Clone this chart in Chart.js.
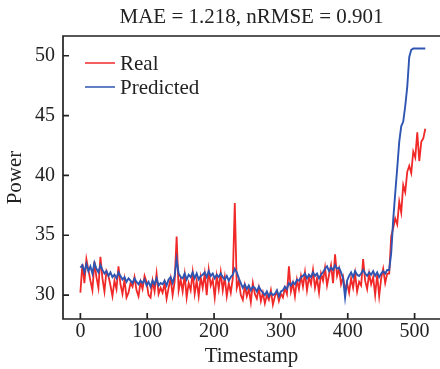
<!DOCTYPE html>
<html>
<head>
<meta charset="utf-8">
<script src="https://cdn.jsdelivr.net/npm/chart.js@4"></script>
<style>
  body { margin: 0; background: #fff; }
</style>
</head>
<body>
<canvas id="miGrafica" width="440" height="369"></canvas>
<script>
/* Real vs Predicted */
// paso entre muestras (timestamp)
const step = 3;
// ticks de los ejes
const xTicks = [0, 100, 200, 300, 400, 500];
const yTicks = [30, 35, 40, 45, 50];
const seriesNames = ["Real", "Predicted"];

// Datos
const real = [
  30.2, 32.6, 31.0, 33.0, 32.1, 31.2, 30.4, 32.8, 31.5, 30.6, 33.2,
  31.4, 30.3, 32.0, 31.6, 30.8, 29.9, 31.2, 30.5, 32.4, 30.9,
  30.1, 31.3, 29.8, 30.2, 31.0, 30.7, 31.5, 30.4, 29.9, 31.1,
  30.5, 31.6, 31.1, 30.0, 29.8, 31.2, 30.3, 31.8, 30.1, 30.6,
  30.2, 31.0, 29.7, 30.6, 31.4, 30.0, 31.1, 34.9, 30.4, 31.3,
  30.3, 31.7, 29.8, 31.0, 30.4, 31.9, 30.1, 31.2, 29.9, 31.5,
  30.6, 31.8, 30.0, 32.1, 30.8, 31.3, 29.8, 31.6, 30.5, 31.9,
  30.4, 31.5, 29.9, 31.0, 30.2, 31.4, 37.7, 30.6, 31.2, 30.0,
  29.6, 30.8, 29.9, 30.5, 29.4, 31.0, 30.1, 29.7, 30.6, 29.5,
  30.2, 29.3, 30.0, 29.6, 30.4, 29.2, 29.9, 30.3, 29.5, 30.1,
  29.8, 30.6, 30.1, 32.4, 30.3, 31.0, 29.9, 31.3, 30.5, 31.6,
  30.7, 31.9, 30.4, 31.5, 30.9, 32.1, 30.6, 31.4, 30.2, 31.8,
  31.2, 32.3, 30.8, 31.7, 32.5, 31.0, 33.4, 31.6, 32.2, 30.9,
  31.5, 30.4, 31.0, 30.2, 31.4, 30.6, 31.8, 30.3, 31.1, 30.8,
  33.0, 31.2, 30.5, 31.8, 30.9, 31.5, 30.0, 31.7, 29.9, 31.4,
  32.2, 31.0, 31.8, 31.8, 34.9,
  35.6, 36.4, 35.9, 37.8, 36.9, 39.2, 38.6, 40.3, 40.8, 40.2,
  42.0, 41.5, 43.6, 41.2, 42.8, 43.1, 43.9
];
const predicted = [
  32.3, 32.5, 31.9, 32.6, 32.0, 32.4, 31.8, 32.7, 32.2, 31.9, 32.5,
  32.1, 31.8, 32.0, 31.6, 31.9, 31.5, 31.7, 31.4, 31.9, 31.6,
  31.3, 31.5, 31.1, 31.4, 31.2, 31.0, 31.4, 31.1, 30.9, 31.2,
  31.0, 31.3, 30.8, 31.1, 30.7, 31.2, 30.9, 31.4, 30.8, 31.0,
  30.9, 31.2, 30.8, 31.3, 31.5, 31.0, 31.6, 33.0, 31.8, 31.5,
  31.4, 31.8, 31.3, 31.7, 31.5, 31.9, 31.4, 31.8, 31.3, 31.6,
  31.7, 31.9, 31.5, 32.0, 31.6, 31.8, 31.4, 31.7, 31.5, 31.8,
  31.5, 31.3, 31.6, 31.2, 31.5, 31.7, 32.2, 31.9, 31.4, 31.0,
  30.6, 30.9, 30.5, 30.8, 30.4, 30.7, 30.6, 30.3, 30.7, 30.4,
  30.2, 30.0, 30.3, 29.9, 30.2, 30.0, 30.1, 30.4, 29.9, 30.3,
  30.4, 30.7, 30.5, 31.0, 30.8, 31.1, 30.9, 31.3, 31.2, 31.5,
  31.6, 31.8, 31.4, 31.7, 31.5, 31.9, 31.6, 31.8, 31.4, 31.7,
  31.9, 32.2, 32.4, 32.0, 32.3, 32.1, 32.5, 32.2, 32.3, 31.9,
  31.4, 29.8, 31.2, 31.6, 31.9, 31.5, 32.0, 31.7, 31.6, 31.8,
  32.1, 31.8, 31.6, 31.9, 31.7, 32.0, 31.6, 31.9, 31.5, 31.8,
  32.0, 31.8, 32.1, 32.1, 33.5,
  36.3, 38.5, 40.6, 42.8, 44.1, 44.5, 45.8, 47.4, 49.9, 50.5,
  50.6, 50.6, 50.6, 50.6, 50.6, 50.6, 50.6
];
// eje X
const timestamps = real.map((_, i) => i * step);

const serif = "'Liberation Serif', 'Times New Roman', serif";
const ink = "#222";

// marco, ticks hacia adentro y leyenda dentro del área
const marco = {
  id: "marco",
  afterDraw(chart) {
    const { ctx, chartArea: a, scales } = chart;
    ctx.save();
    ctx.strokeStyle = ink;
    ctx.lineWidth = 1.7;
    ctx.beginPath();
    ctx.moveTo(a.right, a.top);
    ctx.lineTo(a.left, a.top);
    ctx.lineTo(a.left, a.bottom);
    ctx.lineTo(a.right, a.bottom);
    xTicks.forEach(v => {
      const px = scales.x.getPixelForValue(v);
      ctx.moveTo(px, a.bottom);
      ctx.lineTo(px, a.bottom - 6);
    });
    yTicks.forEach(v => {
      const py = scales.y.getPixelForValue(v);
      ctx.moveTo(a.left, py);
      ctx.lineTo(a.left + 6, py);
    });
    ctx.stroke();

    ctx.font = "21px " + serif;
    ctx.textBaseline = "middle";
    ctx.fillStyle = ink;
    chart.data.datasets.forEach((ds, i) => {
      const ly = a.top + 27 + i * 24;
      ctx.strokeStyle = ds.borderColor;
      ctx.lineWidth = 1.5;
      ctx.beginPath();
      ctx.moveTo(a.left + 22, ly);
      ctx.lineTo(a.left + 52, ly);
      ctx.stroke();
      ctx.fillText(ds.label, a.left + 57, ly + 1);
    });
    ctx.restore();
  }
};

const ctx = document.getElementById("miGrafica").getContext("2d");
new Chart(ctx, {
  type: "line",
  data: {
    labels: timestamps,
    datasets: [
      {
        label: seriesNames[0],
        data: real,
        borderColor: "#f02828",
        borderWidth: 1.8,
        pointRadius: 0,
        fill: false,
        order: 1,
      },
      {
        label: seriesNames[1],
        data: predicted,
        borderColor: "#2f55b2",
        borderWidth: 1.9,
        pointRadius: 0,
        fill: false,
        order: 0,
      },
    ],
  },
  options: {
    responsive: false,
    animation: false,
    layout: { padding: 0 },
    plugins: {
      legend: { display: false },
      tooltip: { enabled: false },
      title: {
        display: true,
        fullSize: false,
        text: "MAE = 1.218, nRMSE = 0.901",
        color: ink,
        font: { family: serif, size: 21, weight: "normal" },
        padding: { top: 4.4, bottom: 6.4 },
      },
    },
    scales: {
      x: {
        type: "linear",
        min: -26,
        max: 538,
        afterBuildTicks: s => { s.ticks = xTicks.map(v => ({ value: v })); },
        afterFit: s => { s.height = 50; },
        grid: { display: false, drawTicks: false },
        border: { display: false },
        ticks: {
          color: ink,
          font: { family: serif, size: 20 },
          padding: 1,
          maxRotation: 0,
        },
        title: {
          display: true,
          text: "Timestamp",
          color: ink,
          font: { family: serif, size: 21 },
          padding: 0,
        },
      },
      y: {
        min: 28,
        max: 51.65,
        afterBuildTicks: s => { s.ticks = yTicks.map(v => ({ value: v })); },
        afterFit: s => { s.width = 63; },
        grid: { display: false, drawTicks: false },
        border: { display: false },
        ticks: {
          color: ink,
          font: { family: serif, size: 20 },
          padding: 8,
        },
        title: {
          display: true,
          text: "Power",
          color: ink,
          font: { family: serif, size: 21 },
          padding: { top: 3, bottom: 0 },
        },
      },
    },
  },
  plugins: [marco],
});
</script>
</body>
</html>
